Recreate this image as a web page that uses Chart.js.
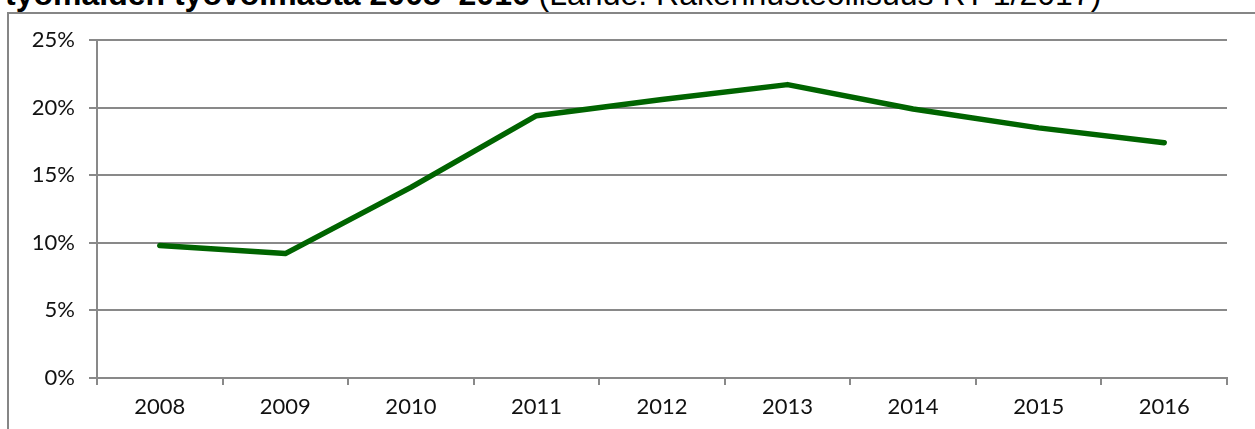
<!DOCTYPE html>
<html>
<head>
<meta charset="utf-8">
<script src="https://cdn.jsdelivr.net/npm/chart.js@4"></script>
<style>
  html, body { margin: 0; padding: 0; width: 1255px; height: 429px; overflow: hidden; background: #fff; }
  #title { position: absolute; left: 5px; top: -22px; white-space: nowrap;
           font-family: "Liberation Sans", Arial, sans-serif; font-size: 32px; line-height: 32px; color: #000; }
  #title b { font-weight: bold; }
  #frame { position: absolute; left: 7px; top: 12px; width: 1400px; height: 600px; border: 2px solid #868686; }
  #wrap { position: absolute; left: 0; top: 0; width: 1255px; height: 429px; }
</style>
</head>
<body>
<div id="title"><b>työmaiden työvoimasta 2008–2016</b> (Lähde: Rakennusteollisuus RT 1/2017)</div>
<div id="frame"></div>
<div id="wrap"><canvas id="myChart"></canvas></div>
<script>
// vuodet ja osuus (%)
var years = ["2008", "2009", "2010", "2011", "2012", "2013", "2014", "2015", "2016"];
var share = [9.8, 9.2, 14.1, 19.4, 20.6, 21.7, 19.9, 18.5, 17.4];
var yTicks = [0, 5, 10, 15, 20, 25];

var gridColor = '#898989';
var tickFont = { family: 'Lato, "DejaVu Sans", sans-serif', size: 22 };

var ctx = document.getElementById('myChart').getContext('2d');
var chart = new Chart(ctx, {
    type: 'line',
    data: {
        labels: years,
        datasets: [{
            data: share,
            borderColor: '#006400',
            borderWidth: 5.5,
            borderCapStyle: 'round',
            borderJoinStyle: 'round',
            pointRadius: 0,
            tension: 0,
            fill: false
        }]
    },
    options: {
        responsive: true,
        maintainAspectRatio: false,
        animation: false,
        layout: { padding: { left: 0, top: 40, right: 28, bottom: 0 } },
        plugins: { legend: { display: false }, tooltip: { enabled: false } },
        scales: {
            x: {
                offset: true,
                grid: { offset: true, drawOnChartArea: false, drawTicks: true, tickLength: 7, color: gridColor, lineWidth: 2 },
                border: { color: gridColor, width: 2 },
                ticks: { color: '#111', font: tickFont, padding: 9, maxRotation: 0 },
                afterFit: function (s) { s.height = 51; }
            },
            y: {
                min: 0,
                max: 25,
                afterBuildTicks: function (s) { s.ticks = yTicks.map(function (v) { return { value: v }; }); },
                grid: { color: gridColor, lineWidth: 2, tickLength: 8 },
                border: { color: gridColor, width: 2 },
                ticks: { color: '#111', font: tickFont, padding: 14, callback: function (v) { return v + '%'; } },
                afterFit: function (s) { s.width = 97; }
            }
        }
    }
});
</script>
</body>
</html>
